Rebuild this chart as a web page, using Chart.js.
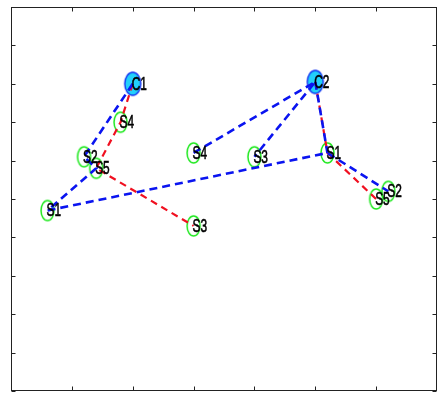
<!DOCTYPE html>
<html><head><meta charset="utf-8">
<script src="https://cdn.jsdelivr.net/npm/chart.js@4.4.0/dist/chart.umd.min.js"></script>
<style>html,body{margin:0;padding:0;overflow:hidden;background:#fff}canvas{display:block}</style>
</head><body>
<canvas id="c" width="444" height="398"></canvas>
<script>
// Depots (centres)
const depotNames = ['C1', 'C2'];
const depotX = [2.0, 5.0];
const depotY = [8.0, 8.05];

// Service sites: first five belong to C1, last five to C2
const siteNames = ['S1', 'S2', 'S3', 'S4', 'S5', 'S1', 'S2', 'S3', 'S4', 'S5'];
const siteX = [0.6, 1.2, 3.0, 1.8, 1.4, 5.2, 6.2, 4.0, 3.0, 6.0];
const siteY = [4.7, 6.1, 4.3, 7.0, 5.8, 6.2, 5.2, 6.1, 6.2, 5.0];

// Routes as node references: 'C<i>' = depot i, 'S<i>' = site i
const blueRoutes = [
  ['C0', 'S1', 'S4', 'S0', 'S5', 'S6'],
  ['S8', 'C1', 'S7'],
  ['C1', 'S5']
];
const redRoutes = [
  ['C0', 'S3', 'S4', 'S2'],
  ['C1', 'S5', 'S9']
];

// Axis ticks
const xTicks = [0, 1, 2, 3, 4, 5, 6, 7];
const yTicks = [0, 1, 2, 3, 4, 5, 6, 7, 8, 9, 10];

function node(ref) {
  const i = +ref.slice(1);
  return ref[0] === 'C' ? {x: depotX[i], y: depotY[i]} : {x: siteX[i], y: siteY[i]};
}

function ellipseMarker(rx, ry, fill, stroke, lw) {
  const cv = document.createElement('canvas');
  cv.width = Math.ceil(rx * 2 + lw + 2);
  cv.height = Math.ceil(ry * 2 + lw + 2);
  const g = cv.getContext('2d');
  g.beginPath();
  g.ellipse(cv.width / 2, cv.height / 2, rx, ry, 0, 0, Math.PI * 2);
  if (fill) { g.fillStyle = fill; g.fill(); }
  g.lineWidth = lw; g.strokeStyle = stroke; g.stroke();
  return cv;
}
const siteMarker = ellipseMarker(6.5, 10, null, '#1ee81e', 1.5);
const depotMarker = ellipseMarker(8, 11.5, '#22d0fa', '#1030f0', 1.4);

function routeDataset(route, color, width, dash) {
  return {
    data: route.map(node), showLine: true, fill: false, tension: 0,
    borderColor: color, borderWidth: width, borderDash: dash,
    pointRadius: 0, pointHoverRadius: 0
  };
}

const datasets = [];
blueRoutes.forEach(r => datasets.push(routeDataset(r, '#0a14f0', 2.6, [8, 5])));
redRoutes.forEach(r => datasets.push(routeDataset(r, '#f01020', 2.2, [7, 5])));
datasets.push({
  data: depotX.map((x, i) => ({x, y: depotY[i]})), labels: depotNames, showLine: false,
  pointStyle: depotMarker, pointRadius: 6, pointHoverRadius: 6
});
datasets.push({
  data: siteX.map((x, i) => ({x, y: siteY[i]})), labels: siteNames, showLine: false,
  pointStyle: siteMarker, pointRadius: 6, pointHoverRadius: 6
});

// Box with inward ticks on all four sides
const framePlugin = {
  id: 'frame',
  beforeDatasetsDraw(chart) {
    const {ctx, chartArea: a, scales: {x, y}} = chart;
    ctx.save();
    ctx.strokeStyle = '#222';
    ctx.lineWidth = 1;
    const L = Math.round(a.left) + 0.5, R = Math.round(a.right) - 0.5;
    const T = Math.round(a.top) + 0.5, B = Math.round(a.bottom) - 0.5;
    ctx.strokeRect(L, T, R - L, B - T);
    ctx.beginPath();
    xTicks.forEach(v => {
      const px = Math.round(x.getPixelForValue(v)) + 0.5;
      ctx.moveTo(px, B); ctx.lineTo(px, B - 4);
      ctx.moveTo(px, T); ctx.lineTo(px, T + 4);
    });
    yTicks.forEach(v => {
      const py = Math.round(y.getPixelForValue(v)) + 0.5;
      ctx.moveTo(L, py); ctx.lineTo(L + 4, py);
      ctx.moveTo(R, py); ctx.lineTo(R - 4, py);
    });
    ctx.stroke();
    ctx.restore();
  }
};

// Node names written beside each marker
const labelPlugin = {
  id: 'nodeLabels',
  afterDatasetsDraw(chart) {
    const {ctx} = chart;
    ctx.save();
    ctx.fillStyle = '#000';
    ctx.strokeStyle = '#000';
    ctx.lineWidth = 0.6;
    ctx.font = '18px "Liberation Sans", Arial, sans-serif';
    ctx.textAlign = 'left';
    ctx.textBaseline = 'middle';
    chart.data.datasets.forEach((ds, di) => {
      if (!ds.labels) return;
      chart.getDatasetMeta(di).data.forEach((el, i) => {
        ctx.save();
        ctx.translate(el.x - 1, el.y + 1);
        ctx.scale(0.66, 1);
        ctx.fillText(ds.labels[i], 0, 0);
        ctx.strokeText(ds.labels[i], 0, 0);
        ctx.restore();
      });
    });
    ctx.restore();
  }
};

new Chart(document.getElementById('c'), {
  type: 'scatter',
  data: {datasets},
  options: {
    responsive: false,
    animation: false,
    layout: {padding: {left: 11, top: 4, right: 4, bottom: 2}},
    plugins: {legend: {display: false}, tooltip: {enabled: false}},
    scales: {
      x: {type: 'linear', display: false, min: 0, max: 7},
      y: {type: 'linear', display: false, min: 0, max: 10}
    }
  },
  plugins: [framePlugin, labelPlugin]
});
</script>
</body></html>
